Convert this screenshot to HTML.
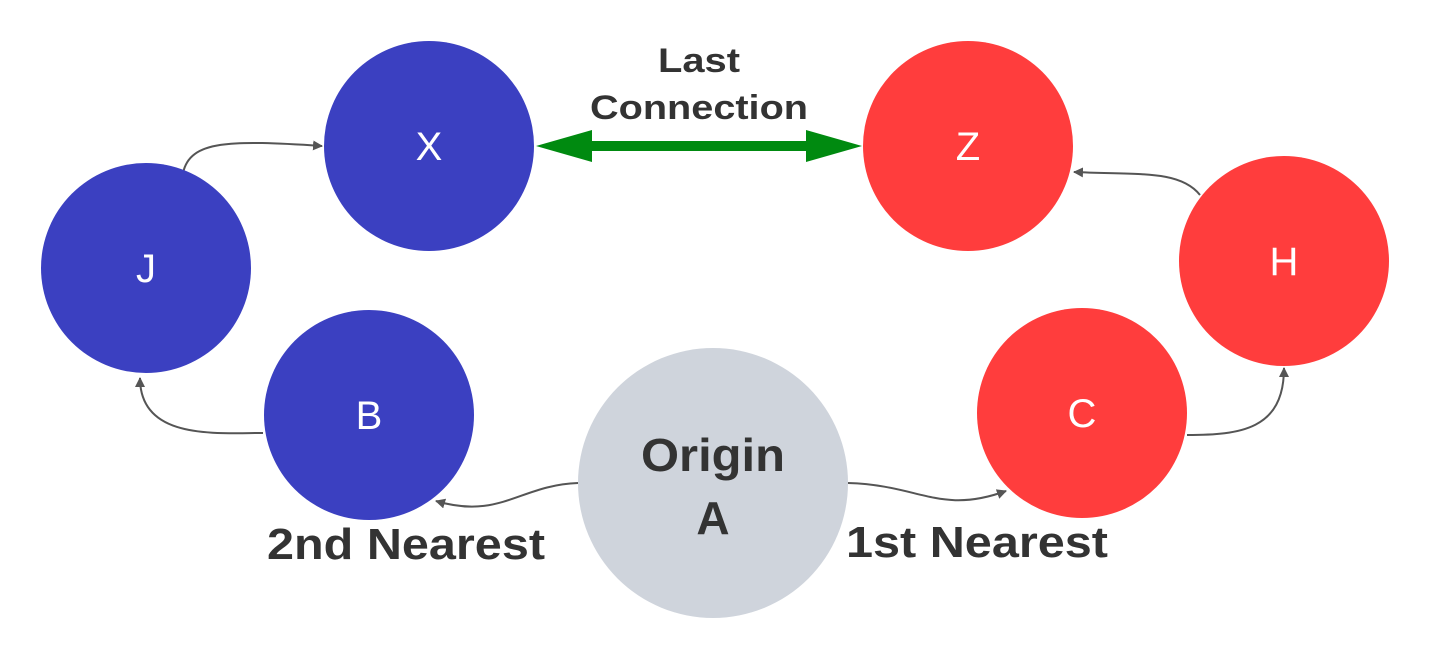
<!DOCTYPE html>
<html><head><meta charset="utf-8"><style>
html,body{margin:0;padding:0;background:#fff;}
svg{display:block;}
text{font-family:"Liberation Sans",Arial,sans-serif;}
</style></head><body>
<svg width="1430" height="658" viewBox="0 0 1430 658" xmlns="http://www.w3.org/2000/svg">
<defs>
<marker id="ah" markerWidth="10" markerHeight="10" refX="9" refY="5" orient="auto" markerUnits="userSpaceOnUse">
<path d="M0,0 L10,5 L0,10 z" fill="#555"/>
</marker>
</defs>
<g fill="none" stroke="#555" stroke-width="2">
<path d="M183,173 C190,140 230,140 322,146" marker-end="url(#ah)"/>
<path d="M1200,195 C1180,170 1140,175 1074,172" marker-end="url(#ah)"/>
<path d="M1187,435 C1240,435 1284,430 1284,368" marker-end="url(#ah)"/>
<path d="M263,433 C215,433 140,440 140,378" marker-end="url(#ah)"/>
<path d="M578,483 C520,485 500,520 436,501" marker-end="url(#ah)"/>
<path d="M848,483 C920,485 940,515 1006,491" marker-end="url(#ah)"/>
</g>
<circle cx="429" cy="146" r="105" fill="#3b40c1"/>
<circle cx="146" cy="268" r="105" fill="#3b40c1"/>
<circle cx="369" cy="415" r="105" fill="#3b40c1"/>
<circle cx="968" cy="146" r="105" fill="#ff3d3d"/>
<circle cx="1284" cy="261" r="105" fill="#ff3d3d"/>
<circle cx="1082" cy="413" r="105" fill="#ff3d3d"/>
<circle cx="713" cy="483" r="135" fill="#cfd4dc"/>
<path d="M536,146 L592,130 L592,141 L806,141 L806,130 L862,146 L806,162 L806,151 L592,151 L592,162 Z" fill="#008a10"/>
<g fill="#fff" font-size="40" text-anchor="middle">
<text x="429" y="160">X</text>
<text x="146" y="282">J</text>
<text x="369" y="429">B</text>
<text x="968" y="160">Z</text>
<text x="1284" y="275">H</text>
<text x="1082" y="427">C</text>
</g>
<g fill="#333" font-weight="bold">
<text x="641" y="471" font-size="46" textLength="144" lengthAdjust="spacingAndGlyphs">Origin</text>
<text x="713" y="534" font-size="46" text-anchor="middle">A</text>
<text x="658" y="72" font-size="34" textLength="82" lengthAdjust="spacingAndGlyphs">Last</text>
<text x="590" y="119" font-size="34" textLength="218" lengthAdjust="spacingAndGlyphs">Connection</text>
<text x="267" y="559" font-size="44" textLength="278" lengthAdjust="spacingAndGlyphs">2nd Nearest</text>
<text x="846" y="557" font-size="44" textLength="262" lengthAdjust="spacingAndGlyphs">1st Nearest</text>
</g>
</svg>
</body></html>
